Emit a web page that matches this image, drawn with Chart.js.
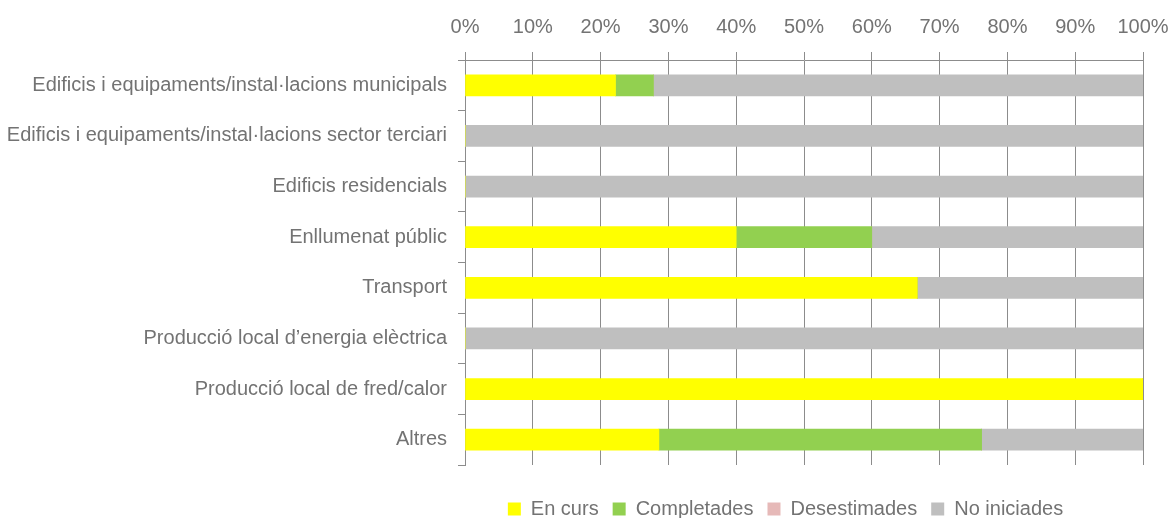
<!DOCTYPE html>
<html>
<head>
<meta charset="utf-8">
<script src="https://cdn.jsdelivr.net/npm/chart.js@4/dist/chart.umd.min.js"></script>
<style>
  html, body { margin: 0; padding: 0; background: #fff; }
  #wrap { width: 1172px; height: 518px; }
</style>
</head>
<body>
<div id="wrap"><canvas id="estatAccions" width="1172" height="518"></canvas></div>
<script>
// Estat de les accions per sector (% sobre el total de cada sector)
const sectors = [
    'Edificis i equipaments/instal·lacions municipals',
    'Edificis i equipaments/instal·lacions sector terciari',
    'Edificis residencials',
    'Enllumenat públic',
    'Transport',
    'Producció local d\u2019energia elèctrica',
    'Producció local de fred/calor',
    'Altres'
];
const enCurs       = [22.2, 0, 0, 40, 66.7, 0, 100, 28.6];
const completades  = [5.6, 0, 0, 20, 0, 0, 0, 47.6];
const desestimades = [0, 0, 0, 0, 0, 0, 0, 0];
const noIniciades  = [72.2, 100, 100, 40, 33.3, 100, 0, 23.8];
const xTicks = [0, 10, 20, 30, 40, 50, 60, 70, 80, 90, 100];

const textColor = '#737373';
const gridColor = '#8c8c8c';
const fontFamily = '"Liberation Sans", Arial, sans-serif';

// moves the legend under the plot area instead of the canvas centre
const legendOffsetPlugin = {
    id: 'legendOffset',
    afterLayout(chart) {
        const lg = chart.legend;
        if (!lg) return;
        const dx = 214, dy = 20;
        lg.left += dx; lg.right += dx;
        lg.top += dy; lg.bottom += dy;
    }
};

new Chart(document.getElementById('estatAccions').getContext('2d'), {
    type: 'bar',
    data: {
        labels: sectors,
        datasets: [
            { label: 'En curs', data: enCurs, backgroundColor: '#ffff00' },
            { label: 'Completades', data: completades, backgroundColor: '#92d050' },
            { label: 'Desestimades', data: desestimades, backgroundColor: '#e6b9b8' },
            { label: 'No iniciades', data: noIniciades, backgroundColor: '#bfbfbf' }
        ]
    },
    options: {
        indexAxis: 'y',
        responsive: false,
        animation: false,
        barThickness: 21,
        layout: { padding: { top: 2, right: 29, bottom: 9, left: 0 } },
        scales: {
            x: {
                position: 'top',
                stacked: true,
                min: 0,
                max: 100,
                afterBuildTicks(scale) {
                    scale.ticks = xTicks.map(v => ({ value: v }));
                },
                afterFit(scale) {
                    // let the "100%" label hang over the right padding
                    scale.paddingLeft = 0;
                    scale.paddingRight = 0;
                },
                ticks: {
                    callback: v => v + '%',
                    color: textColor,
                    padding: 13,
                    maxRotation: 0,
                    font: { family: fontFamily, size: 20 }
                },
                grid: { color: gridColor, lineWidth: 1, tickLength: 8 },
                border: { color: gridColor, width: 1 }
            },
            y: {
                stacked: true,
                afterFit(scale) { scale.width = 465; },
                ticks: {
                    color: textColor,
                    padding: 11,
                    autoSkip: false,
                    font: { family: fontFamily, size: 20 }
                },
                grid: { drawOnChartArea: false, color: gridColor, tickLength: 7 },
                border: { color: gridColor, width: 1 }
            }
        },
        plugins: {
            tooltip: { enabled: false },
            legend: {
                position: 'bottom',
                labels: {
                    color: textColor,
                    boxWidth: 13,
                    boxHeight: 13,
                    padding: 14,
                    font: { family: fontFamily, size: 20 }
                }
            }
        }
    },
    plugins: [legendOffsetPlugin]
});
</script>
</body>
</html>
